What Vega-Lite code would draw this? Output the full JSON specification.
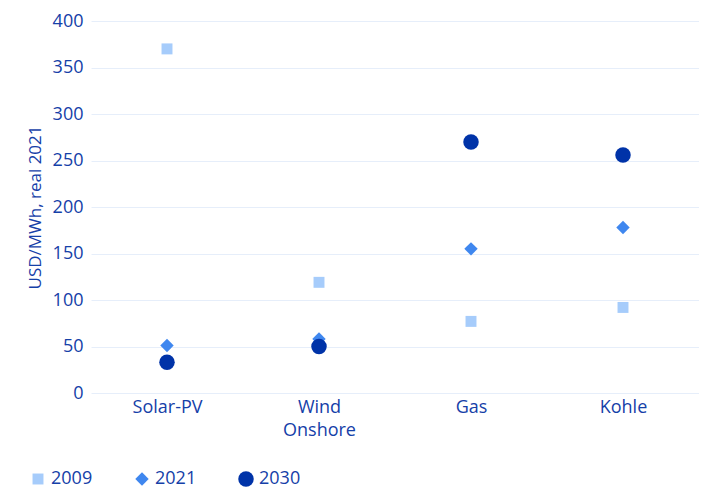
{
  "$schema": "https://vega.github.io/schema/vega-lite/v6.json",
  "width": 608,
  "height": 372,
  "padding": {"left": 26, "right": 0, "top": 12, "bottom": 0},
  "background": "white",
  "config": {
    "view": {"stroke": null},
    "font": "Open Sans",
    "axis": {"labelColor": "#1540a8", "titleColor": "#1540a8", "labelFont": "Open Sans", "titleFont": "Open Sans"},
    "legend": {"labelColor": "#1540a8", "labelFont": "Open Sans"}
  },
  "data": {
    "values": [
      {"tech": "Solar-PV", "year": "2009", "value": 370},
      {"tech": "Solar-PV", "year": "2021", "value": 51},
      {"tech": "Solar-PV", "year": "2030", "value": 33},
      {"tech": "Wind Onshore", "year": "2009", "value": 119},
      {"tech": "Wind Onshore", "year": "2021", "value": 58},
      {"tech": "Wind Onshore", "year": "2030", "value": 50},
      {"tech": "Gas", "year": "2009", "value": 77},
      {"tech": "Gas", "year": "2021", "value": 155},
      {"tech": "Gas", "year": "2030", "value": 270},
      {"tech": "Kohle", "year": "2009", "value": 92},
      {"tech": "Kohle", "year": "2021", "value": 178},
      {"tech": "Kohle", "year": "2030", "value": 256}
    ]
  },
  "mark": {"type": "point", "filled": true, "opacity": 1},
  "encoding": {
    "x": {
      "field": "tech", "type": "nominal", "sort": null, "title": null,
      "axis": {"labelAngle": 0, "labelFontSize": 18, "ticks": false, "domain": false, "grid": false, "labelPadding": 5, "labelExpr": "split(datum.value, ' ')", "labelLineHeight": 23}
    },
    "y": {
      "field": "value", "type": "quantitative",
      "scale": {"domain": [0, 400], "nice": false},
      "title": "USD/MWh, real 2021",
      "axis": {"values": [0, 50, 100, 150, 200, 250, 300, 350, 400], "labelFontSize": 18, "titleFontSize": 17, "titleFontWeight": "normal", "ticks": false, "domain": false, "gridColor": "#e6eefa", "labelPadding": 8, "titlePadding": 8}
    },
    "color": {
      "field": "year", "type": "nominal", "title": null,
      "scale": {"domain": ["2009", "2021", "2030"], "range": ["#a6ccfb", "#3f87ef", "#0033a8"]},
      "legend": {"orient": "none", "legendX": -62, "legendY": 449, "direction": "horizontal", "labelFontSize": 18, "columnPadding": 40, "symbolOffset": 0}
    },
    "shape": {
      "field": "year", "type": "nominal",
      "scale": {"domain": ["2009", "2021", "2030"], "range": ["square", "diamond", "circle"]}
    },
    "size": {
      "field": "year", "type": "nominal",
      "scale": {"domain": ["2009", "2021", "2030"], "range": [120, 240, 155]}
    }
  }
}
